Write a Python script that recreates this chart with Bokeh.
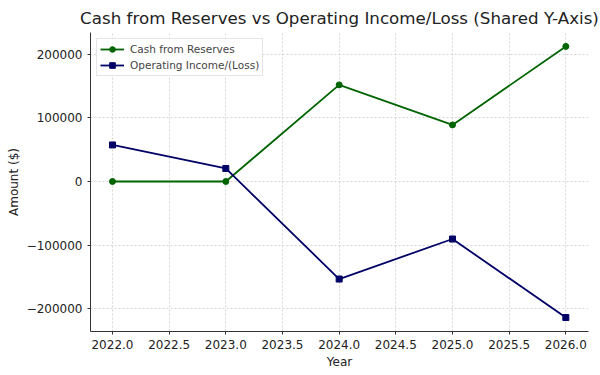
from bokeh.plotting import figure
from bokeh.models import FixedTicker, Range1d, Legend, LegendItem
from bokeh.embed import file_html
from bokeh.resources import INLINE

years = [2022, 2023, 2024, 2025, 2026]
cash_from_reserves = [0, 0, 152000, 89000, 212500]
operating_income = [57500, 20500, -153500, -90500, -214000]

x_ticks = [2022.0, 2022.5, 2023.0, 2023.5, 2024.0, 2024.5, 2025.0, 2025.5, 2026.0]
x_tick_labels = ["2022.0", "2022.5", "2023.0", "2023.5", "2024.0", "2024.5", "2025.0", "2025.5", "2026.0"]
y_ticks = [-200000, -100000, 0, 100000, 200000]
y_tick_labels = ["\u2212200000", "\u2212100000", "0", "100000", "200000"]

FONT = "DejaVu Sans"

p = figure(width=600, height=375, output_backend="svg", toolbar_location=None,
           x_range=Range1d(2021.806, 2026.2), y_range=Range1d(-236000, 234400),
           min_border_left=90, min_border_right=12, min_border_top=30, min_border_bottom=44)

p.title.text = "Cash from Reserves vs Operating Income/Loss (Shared Y-Axis)"
p.title.text_font = FONT
p.title.text_font_size = "16.7px"
p.title.text_font_style = "normal"
p.title.align = "center"
p.title.text_color = "#222222"

green = "#006400"
navy = "#000066"

l1 = p.line(years, cash_from_reserves, line_color=green, line_width=1.8)
m1 = p.scatter(years, cash_from_reserves, marker="circle", size=6, color=green)
l2 = p.line(years, operating_income, line_color=navy, line_width=1.8)
m2 = p.scatter(years, operating_income, marker="square", size=6, color=navy)

legend = Legend(items=[LegendItem(label="Cash from Reserves", renderers=[l1, m1]),
                       LegendItem(label="Operating Income/(Loss)", renderers=[l2, m2])],
                location="top_left")
legend.label_text_font = FONT
legend.label_text_font_size = "10.5px"
legend.label_height = 14
legend.glyph_height = 14
legend.glyph_width = 24
legend.label_standoff = 6
legend.spacing = 2
legend.padding = 3
legend.margin = 6
legend.border_line_color = "#cccccc"
legend.background_fill_alpha = 0.9
p.add_layout(legend)

p.xaxis.ticker = FixedTicker(ticks=x_ticks)
p.xaxis.major_label_overrides = {t: l for t, l in zip(x_ticks, x_tick_labels)}
p.yaxis.ticker = FixedTicker(ticks=y_ticks)
p.yaxis.major_label_overrides = {t: l for t, l in zip(y_ticks, y_tick_labels)}

for ax in (p.xaxis, p.yaxis):
    ax.major_label_text_font = FONT
    ax.major_label_text_font_size = "12px"
    ax.major_label_text_color = "#222222"
    ax.axis_label_text_font = FONT
    ax.axis_label_text_font_size = "12px"
    ax.axis_label_text_font_style = "normal"
    ax.axis_label_text_color = "#222222"
    ax.minor_tick_line_color = None
    ax.major_tick_in = 0
    ax.major_tick_out = 3
    ax.axis_line_color = "#333333"
    ax.major_tick_line_color = "#333333"
    ax.axis_label_standoff = 3

p.xaxis.axis_label = "Year"
p.yaxis.axis_label = "Amount ($)"

p.grid.grid_line_color = "#cccccc"
p.grid.grid_line_dash = "2 2"
p.grid.grid_line_width = 0.8
p.outline_line_color = None

open("out.html", "w").write(file_html(p, INLINE))
